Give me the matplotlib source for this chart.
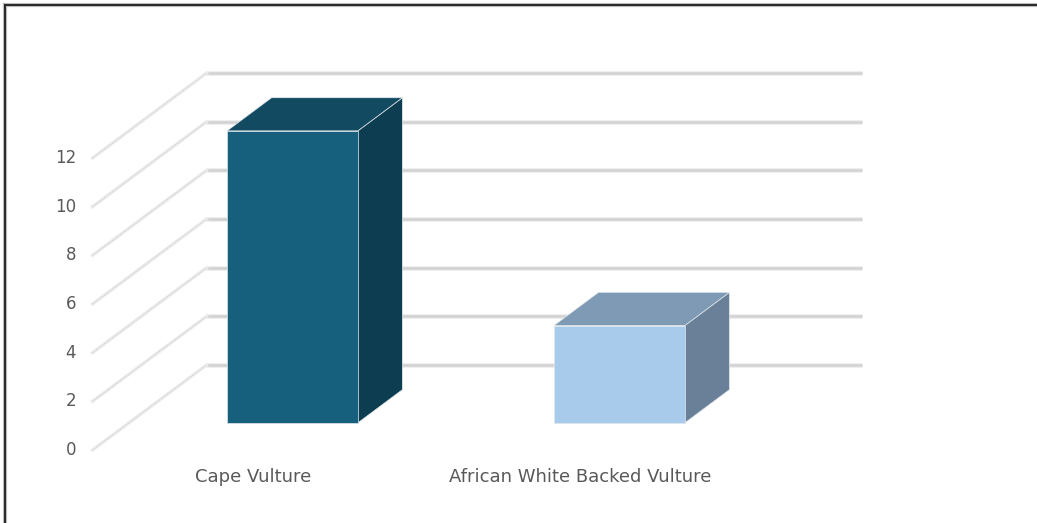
"""Columna 3D estilo Excel: conteo de buitres por especie."""

import matplotlib.pyplot as plt
from matplotlib.lines import Line2D
from matplotlib.patches import Polygon

species = ["Cape Vulture", "African White Backed Vulture"]
counts = [12, 4]
y_ticks = [0, 2, 4, 6, 8, 10, 12]

front_colors = ["#16607e", "#a8cbec"]
top_colors = ["#124a62", "#7f9ab5"]
side_colors = ["#0d3d50", "#6a8099"]

# proyección oblicua: desplazamiento de la profundidad completa en unidades de datos
DX, DY = 0.3486, 3.49
BAR_W = 0.40
D_FRONT, D_BACK = 0.32, 0.71
X_LEFT, X_RIGHT = -0.5, 1.505


def proj(x, y, d):
    return (x + d * DX, y + d * DY)


fig = plt.figure(figsize=(10.37, 5.23), dpi=100)
ax = fig.add_axes([0, 0, 1, 1])
ax.set_xlim(-256 / 327, (1037 - 256) / 327)
ax.set_ylim((450 - 523) / 24.33, 450 / 24.33)
ax.axis("off")

for v in y_ticks:
    # línea en la pared del fondo
    x0, y0 = proj(X_LEFT, v, 1)
    x1, y1 = proj(X_RIGHT, v, 1)
    ax.plot([x0, x1], [y0, y1], color="#ededed", lw=3.4, solid_capstyle="butt", zorder=1)
    ax.plot([x0, x1], [y0, y1], color="#d2d2d2", lw=1.8, solid_capstyle="butt", zorder=1)
    # línea diagonal en la pared lateral
    ax.plot([X_LEFT, x0], [v, y0], color="#ececec", lw=2.4, zorder=1)
    ax.plot([X_LEFT, x0], [v, y0], color="#cfcfcf", lw=0.8, ls=(0, (1.0, 1.2)), zorder=1)
    ax.text(X_LEFT - 0.05, v, str(v), ha="right", va="center",
            fontsize=12, color="#595959", family="DejaVu Sans")

for i, (name, val) in enumerate(zip(species, counts)):
    xl, xr = i - BAR_W / 2, i + BAR_W / 2
    front = [proj(xl, 0, D_FRONT), proj(xr, 0, D_FRONT),
             proj(xr, val, D_FRONT), proj(xl, val, D_FRONT)]
    top = [proj(xl, val, D_FRONT), proj(xr, val, D_FRONT),
           proj(xr, val, D_BACK), proj(xl, val, D_BACK)]
    side = [proj(xr, 0, D_FRONT), proj(xr, 0, D_BACK),
            proj(xr, val, D_BACK), proj(xr, val, D_FRONT)]
    for pts, col in [(side, side_colors[i]), (top, top_colors[i]), (front, front_colors[i])]:
        ax.add_patch(Polygon(pts, closed=True, facecolor=col,
                             edgecolor="#dfe6ea", lw=0.5, zorder=3))
    ax.text(i - 0.01, -1.1, name, ha="center", va="center",
            fontsize=13, color="#595959", family="DejaVu Sans")

# marco de la figura (solo arriba e izquierda)
fig.add_artist(Line2D([5 / 1037, 1], [1 - 5 / 523] * 2, color="#bdbdbd", lw=3.0))
fig.add_artist(Line2D([5 / 1037] * 2, [0, 1 - 5 / 523], color="#bdbdbd", lw=3.0))
fig.add_artist(Line2D([5 / 1037, 1], [1 - 5 / 523] * 2, color="#262626", lw=1.4))
fig.add_artist(Line2D([5 / 1037] * 2, [0, 1 - 5 / 523], color="#262626", lw=1.4))

fig.savefig("out.png", dpi=100)
